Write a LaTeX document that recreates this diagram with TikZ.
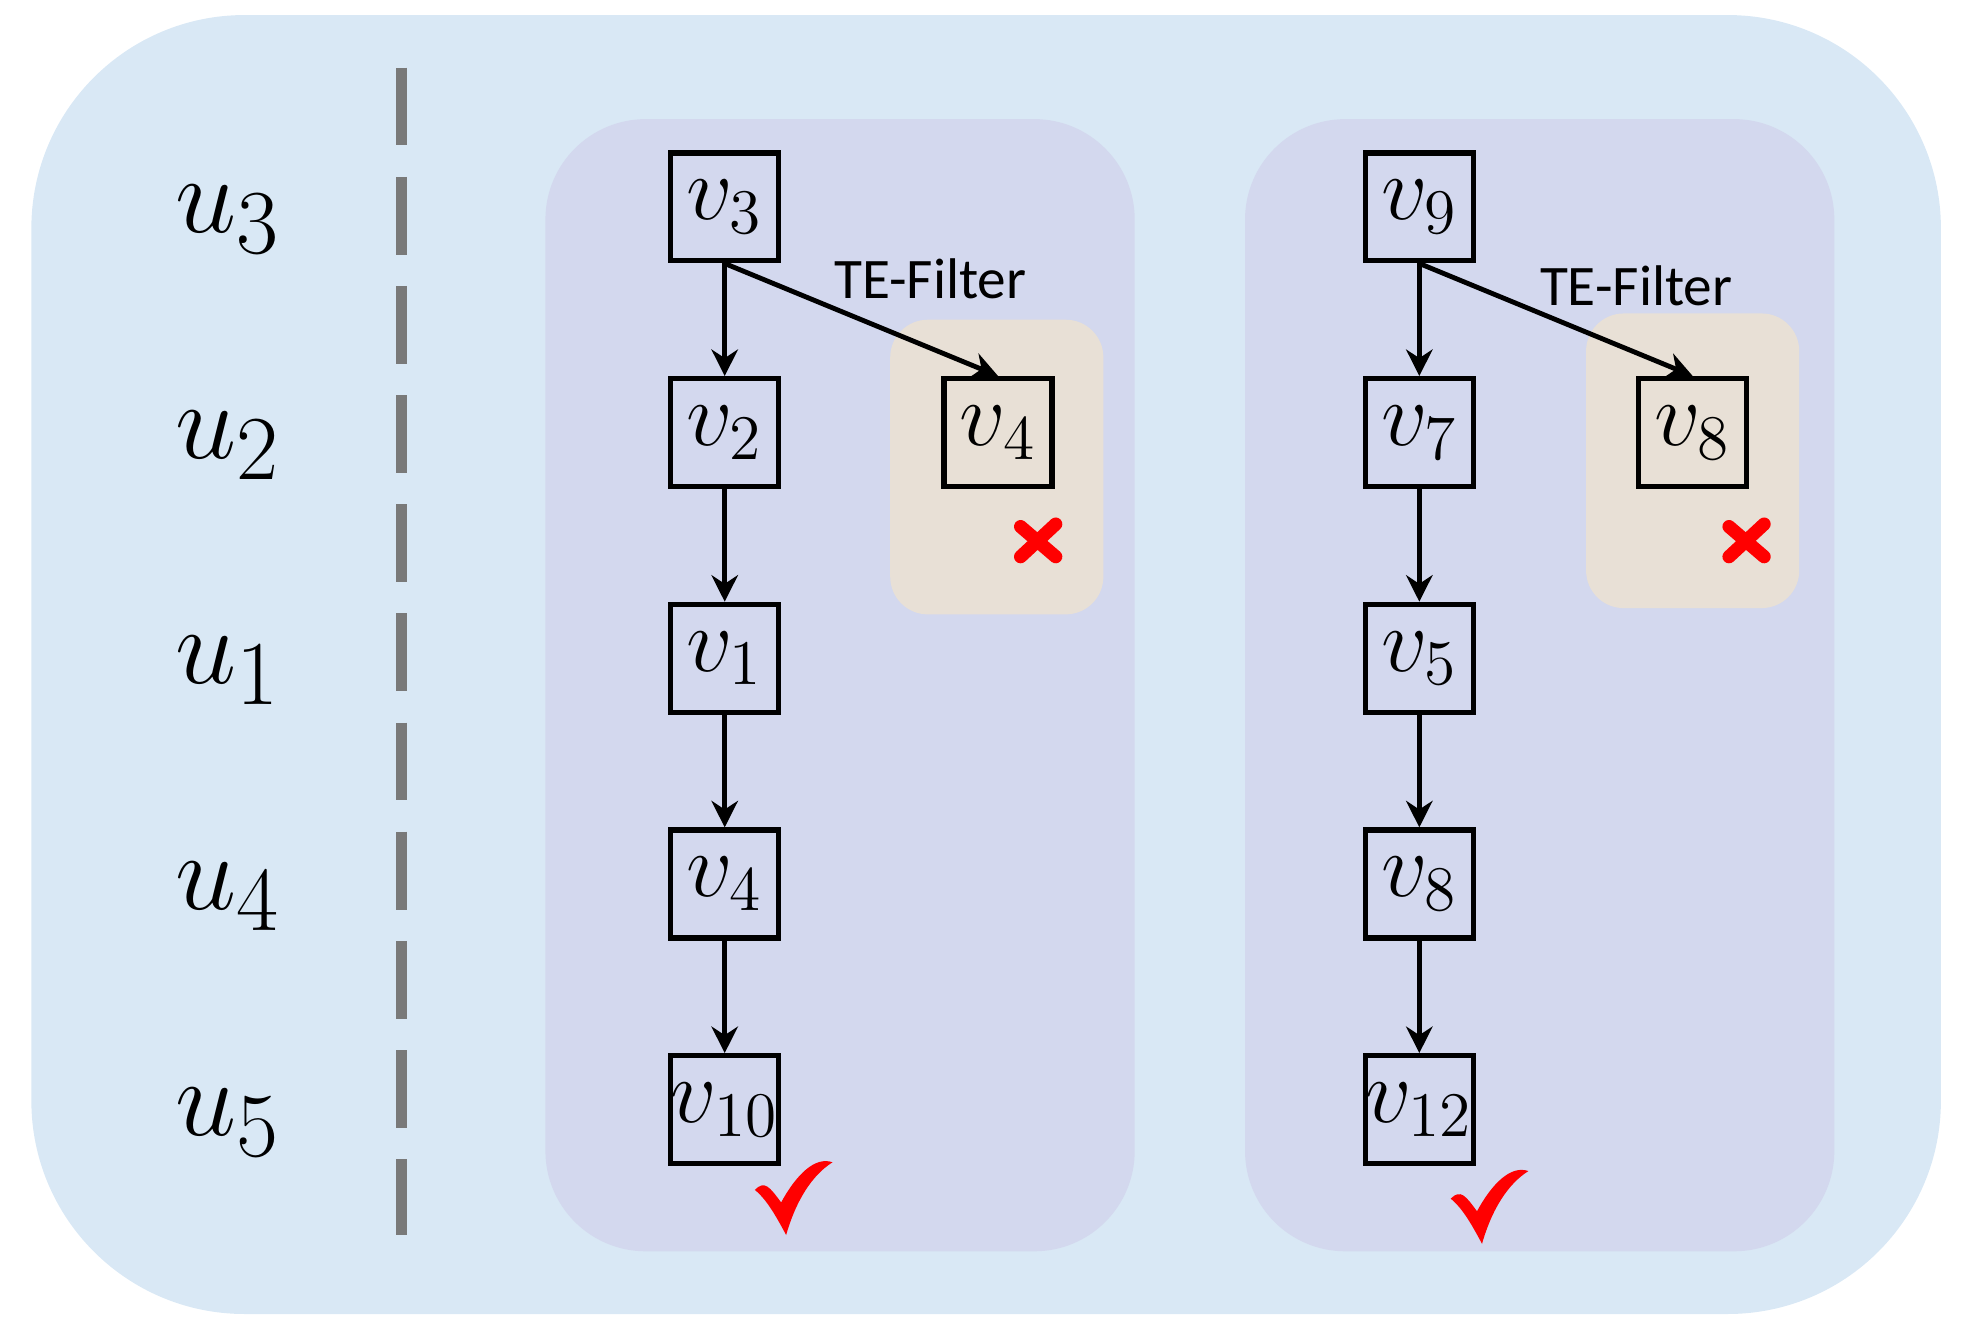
\documentclass[tikz,border=0pt]{standalone}
\usepackage{fontspec}
\newfontfamily\carlitofont{Carlito}
\usetikzlibrary{arrows.meta}
\definecolor{outer}{HTML}{D9E8F5}
\definecolor{inner}{HTML}{D3D8EE}
\definecolor{beige}{HTML}{E8E0D6}
\begin{document}
\begin{tikzpicture}[x=0.01cm,y=-0.01cm,
 bx/.style={draw,line width=1.2pt,minimum size=0.86cm,inner sep=0pt,font=\fontsize{21}{22}\selectfont},
 ar/.style={line width=1.1pt,-{Stealth[length=6pt,width=6pt]}},
 ul/.style={font=\fontsize{30}{32}\selectfont},
 te/.style={font=\carlitofont\fontsize{13}{15}\selectfont}]
\useasboundingbox (0,0) rectangle (1568,1070);
\fill[outer,rounded corners=1.7cm] (25,12) rectangle (1548,1048);
\draw[gray!95!black,line width=2.4pt,dash pattern=on 0.62cm off 0.25cm] (320,54) -- (320,985);
\foreach \i/\y in {3/175,2/355,1/535,4/715,5/895} \node[ul] (u\i) at (182,\y) {$u_{\i}$};
\fill[inner,rounded corners=0.8cm] (435,95) rectangle (905,998);
\fill[inner,rounded corners=0.8cm] (993,95) rectangle (1463,998);
\fill[beige,rounded corners=0.3cm] (710,255) rectangle (880,490);
\fill[beige,rounded corners=0.3cm] (1265,250) rectangle (1435,485);
% panel 1
\node[bx] (a3) at (578,165) {$v_3$};
\node[bx] (a2) at (578,345) {$v_2$};
\node[bx] (a1) at (578,525) {$v_1$};
\node[bx] (a4) at (578,705) {$v_4$};
\node[bx] (a10) at (578,885) {$v_{10}$};
\node[bx] (a4b) at (796,345) {$v_4$};
\draw[ar] (a3) -- (a2); \draw[ar] (a2) -- (a1); \draw[ar] (a1) -- (a4); \draw[ar] (a4) -- (a10);
\draw[ar] (a3.south) -- (a4b.north);
\node[te] (t1) at (742,222) {TE-Filter};
% panel 2
\node[bx] (b9) at (1132,165) {$v_9$};
\node[bx] (b7) at (1132,345) {$v_7$};
\node[bx] (b5) at (1132,525) {$v_5$};
\node[bx] (b8) at (1132,705) {$v_8$};
\node[bx] (b12) at (1132,885) {$v_{12}$};
\node[bx] (b8b) at (1350,345) {$v_8$};
\draw[ar] (b9) -- (b7); \draw[ar] (b7) -- (b5); \draw[ar] (b5) -- (b8); \draw[ar] (b8) -- (b12);
\draw[ar] (b9.south) -- (b8b.north);
\node[te] (t2) at (1305,228) {TE-Filter};
% marks
\foreach \x/\y in {828/432,1393/432}{
 \draw[red,line width=3pt,line cap=round] (\x-14,\y-12) -- (\x+14,\y+12);
 \draw[red,line width=3pt,line cap=round] (\x+14,\y-14) -- (\x-14,\y+12);}
\foreach \x/\y in {630/957,1185/964}{
 \fill[red] (\x-28,\y-8) .. controls (\x-20,\y-16) and (\x-16,\y-10) .. (\x-7,\y+2)
  .. controls (\x+5,\y-20) and (\x+20,\y-35) .. (\x+34,\y-30)
  .. controls (\x+18,\y-20) and (\x+5,\y) .. (\x-3,\y+28)
  .. controls (\x-10,\y+15) and (\x-18,\y) .. cycle;}
\end{tikzpicture}
\end{document}
